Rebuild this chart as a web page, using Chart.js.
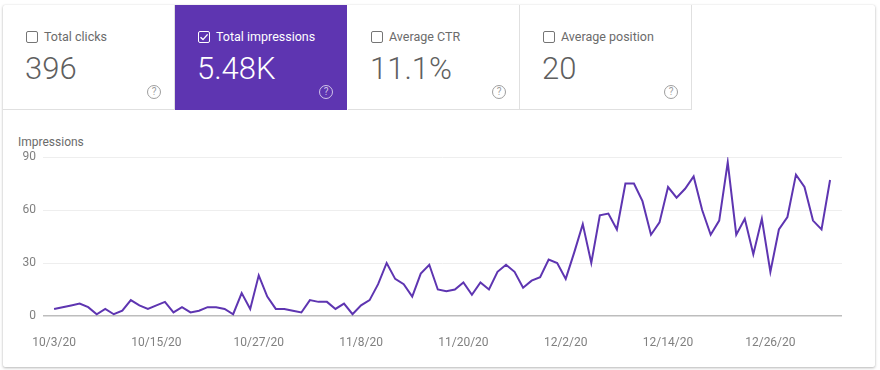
<!DOCTYPE html>
<html>
<head>
<meta charset="utf-8">
<script src="https://cdn.jsdelivr.net/npm/chart.js@4/dist/chart.umd.min.js"></script>
<style>
  html, body { margin: 0; padding: 0; background: #fff; width: 880px; height: 370px; overflow: hidden; font-family: Roboto, "Noto Sans", Arial, sans-serif; }
  .card { position: absolute; left: 3px; top: 5px; width: 872px; height: 362px; background: #fff; border-radius: 2px; box-shadow: 0 1px 3px rgba(0,0,0,0.28), 0 0 1px rgba(0,0,0,0.12); }
  .tile { position: absolute; top: 0; height: 105px; width: 172px; box-sizing: border-box; border-right: 1px solid #e0e0e0; border-bottom: 1px solid #e0e0e0; color: #6b6b6b; }
  .tile.on { background: #5e35b1; color: #fff; border-color: #5e35b1; }
  .tile .label { position: absolute; left: 23px; top: 25px; font-size: 12.5px; line-height: 14px; white-space: nowrap; }
  .tile .box { display: inline-block; width: 10px; height: 10px; border: 1.5px solid #757575; border-radius: 2px; vertical-align: -2px; margin-right: 6px; position: relative; }
  .tile.on .box { border-color: #fff; }
  .tile .box svg { position: absolute; left: 0; top: 0; }
  .tile .num { position: absolute; left: 22px; top: 47px; font-size: 31px; line-height: 34px; font-weight: 300; color: #5f5f5f; white-space: nowrap; }
  .tile.on .num { color: #fff; }
  .tile .help { position: absolute; right: 13px; top: 80px; width: 12px; height: 12px; border: 1px solid #9e9e9e; border-radius: 50%; color: #9e9e9e; font-size: 10px; line-height: 12px; text-align: center; }
  .tile.on .help { border-color: rgba(255,255,255,0.7); color: rgba(255,255,255,0.7); }
  .ylabel { position: absolute; left: 18px; top: 135px; font-size: 12px; color: #6b6b6b; }
  .chartbox { position: absolute; left: 0; top: 140px; width: 880px; height: 225px; }
</style>
</head>
<body>
<div class="card">
  <div class="tile" style="left:0"><div class="label"><span class="box"></span>Total clicks</div><div class="num">396</div><div class="help">?</div></div>
  <div class="tile on" style="left:172px"><div class="label"><span class="box"><svg width="10" height="10" viewBox="0 0 10 10"><path d="M1.5 5.2 L4 7.6 L8.6 2.4" fill="none" stroke="#fff" stroke-width="1.4"/></svg></span>Total impressions</div><div class="num">5.48K</div><div class="help">?</div></div>
  <div class="tile" style="left:345px"><div class="label"><span class="box"></span>Average CTR</div><div class="num">11.1%</div><div class="help">?</div></div>
  <div class="tile" style="left:517px"><div class="label"><span class="box"></span>Average position</div><div class="num">20</div><div class="help">?</div></div>
</div>
<div class="ylabel">Impressions</div>
<div class="chartbox"><canvas id="chart"></canvas></div>
<script>
// daily impressions, 10/3/20 .. 1/2/21
const impressions = [
  4, 5, 6, 7, 5, 1, 4, 1, 3, 9,
  6, 4, 6, 8, 2, 5, 2, 3, 5, 5,
  4, 1, 13, 4, 23, 11, 4, 4, 3, 2,
  9, 8, 8, 4, 7, 1, 6, 9, 18, 30,
  21, 18, 11, 24, 29, 15, 14, 15, 19, 12,
  19, 15, 25, 29, 25, 16, 20, 22, 32, 30,
  21, 36, 52, 30, 57, 58, 49, 75, 75, 65,
  46, 53, 73, 67, 72, 79, 60, 46, 54, 87,
  46, 55, 35, 55, 25, 49, 56, 80, 73, 54,
  49, 77
];
const xTickLabels = ['10/3/20', '10/15/20', '10/27/20', '11/8/20', '11/20/20', '12/2/20', '12/14/20', '12/26/20'];
const tickEvery = 12;
const yTicks = [0, 30, 60, 90];

const points = impressions.map((v, i) => ({ x: i, y: v }));

new Chart(document.getElementById('chart'), {
  type: 'line',
  data: {
    datasets: [{
      label: 'Impressions',
      data: points,
      borderColor: '#5e35b1',
      borderWidth: 2,
      pointRadius: 0,
      tension: 0,
      fill: false
    }]
  },
  options: {
    responsive: true,
    maintainAspectRatio: false,
    animation: false,
    layout: { padding: { top: 17, right: 38, left: 0, bottom: 0 } },
    plugins: { legend: { display: false }, tooltip: { enabled: false } },
    scales: {
      x: {
        type: 'linear',
        min: -1.3,
        max: 92.4,
        afterBuildTicks: s => { s.ticks = xTickLabels.map((_, k) => ({ value: k * tickEvery })); },
        afterFit: s => { s.height = 49; },
        ticks: {
          autoSkip: false,
          maxRotation: 0,
          padding: 12,
          color: '#808080',
          font: { family: 'Roboto', size: 12 },
          callback: v => xTickLabels[v / tickEvery]
        },
        grid: { display: false },
        border: { display: false }
      },
      y: {
        min: 0,
        max: 90,
        afterBuildTicks: s => { s.ticks = yTicks.map(v => ({ value: v })); },
        afterFit: s => { s.width = 43; },
        ticks: {
          padding: 7,
          color: '#808080',
          font: { family: 'Roboto', size: 12 }
        },
        grid: {
          drawTicks: false,
          color: c => c.tick.value === 0 ? '#bdbdbd' : '#eeeeee',
          lineWidth: c => c.tick.value === 0 ? 1.5 : 1
        },
        border: { display: false }
      }
    }
  }
});
</script>
</body>
</html>
